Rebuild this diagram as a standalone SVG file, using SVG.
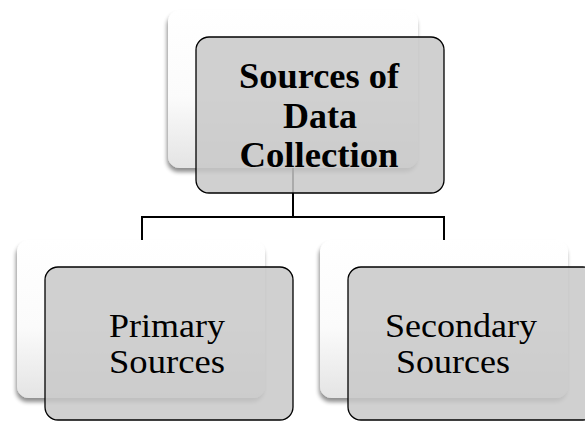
<svg xmlns="http://www.w3.org/2000/svg" width="585" height="421" viewBox="0 0 585 421">
  <defs>
    <linearGradient id="backFill" x1="0" y1="0" x2="0" y2="1">
      <stop offset="0" stop-color="#ffffff"/>
      <stop offset="0.55" stop-color="#fbfbfb"/>
      <stop offset="1" stop-color="#e4e4e4"/>
    </linearGradient>
    <filter id="shadow" x="-10%" y="-10%" width="120%" height="125%">
      <feGaussianBlur in="SourceAlpha" stdDeviation="2"/>
      <feOffset dx="-1" dy="4" result="off"/>
      <feComponentTransfer><feFuncA type="linear" slope="0.45"/></feComponentTransfer>
      <feMerge><feMergeNode/><feMergeNode in="SourceGraphic"/></feMerge>
    </filter>
  </defs>
  <style>
    .back { fill: url(#backFill); filter: url(#shadow); }
    .front { fill: #c8c8c8; fill-opacity: 0.85; stroke: #000; stroke-width: 1.3; }
    .conn { fill: none; stroke: #000; stroke-width: 2; }
    .title { font-family: "Liberation Serif", "Times New Roman", serif; font-weight: bold; font-size: 35px; fill: #000; text-anchor: middle; }
    .label { font-family: "Liberation Serif", "Times New Roman", serif; font-size: 34px; fill: #000; text-anchor: middle; }
  </style>
  <rect width="585" height="421" fill="#fff"/>

  <g id="connectors">
    <path class="conn" d="M293 168 V217 M142 217 H444 M142 216 V242 M444 216 V242"/>
  </g>

  <g id="node-sources">
    <rect class="back" x="168" y="10" width="250" height="158" rx="12"/>
    <rect class="front" x="196" y="37" width="248" height="156" rx="13"/>
    <text class="title" x="319" y="88" textLength="160" lengthAdjust="spacingAndGlyphs">Sources of</text>
    <text class="title" x="320" y="128" textLength="74" lengthAdjust="spacingAndGlyphs">Data</text>
    <text class="title" x="319" y="167" textLength="159" lengthAdjust="spacingAndGlyphs">Collection</text>
  </g>

  <g id="node-primary">
    <rect class="back" x="17" y="240" width="248" height="158" rx="12"/>
    <rect class="front" x="45" y="267" width="248" height="153" rx="13"/>
    <text class="label" x="167" y="337" textLength="116" lengthAdjust="spacingAndGlyphs">Primary</text>
    <text class="label" x="167" y="373" textLength="116" lengthAdjust="spacingAndGlyphs">Sources</text>
  </g>

  <g id="node-secondary">
    <rect class="back" x="320" y="240" width="248" height="158" rx="12"/>
    <rect class="front" x="348" y="267" width="248" height="153" rx="13"/>
    <text class="label" x="461" y="337" textLength="152" lengthAdjust="spacingAndGlyphs">Secondary</text>
    <text class="label" x="453" y="373" textLength="114" lengthAdjust="spacingAndGlyphs">Sources</text>
  </g>
</svg>
